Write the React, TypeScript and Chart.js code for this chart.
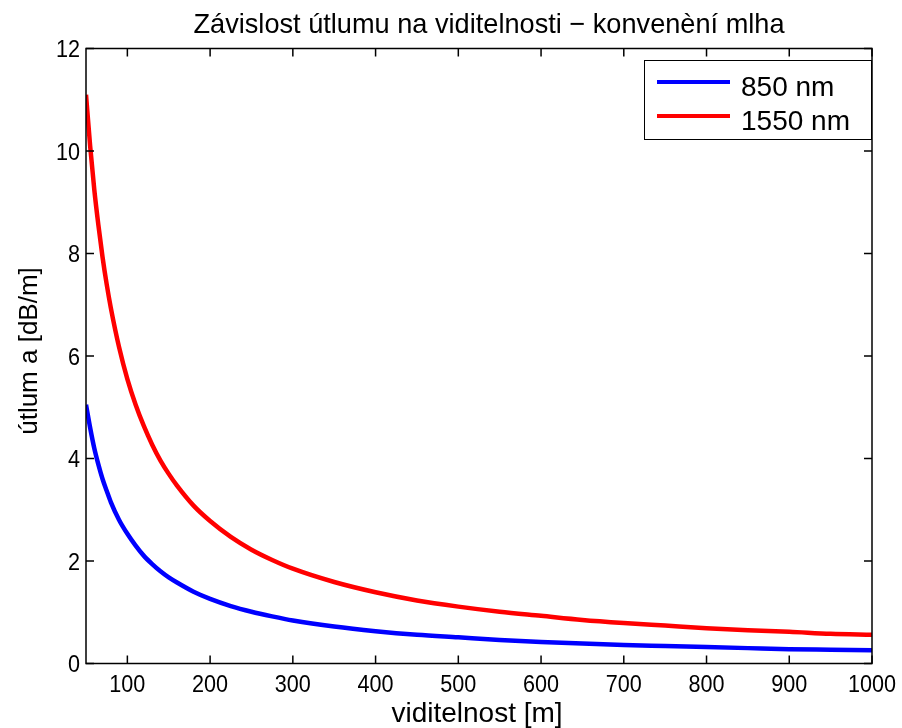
import React, { useEffect, useRef } from "react";
import { Chart, registerables } from "chart.js";

Chart.register(...registerables);

const visibility = [50, 55, 60, 65, 70, 75, 80, 90, 100, 110, 120, 130, 140, 150, 160, 180, 200, 225, 250, 275, 300, 350, 400, 450, 500, 550, 600, 650, 700, 750, 800, 850, 900, 950, 1000];
const att850 = [5.05, 4.6, 4.2, 3.88, 3.6, 3.37, 3.15, 2.8, 2.53, 2.3, 2.1, 1.94, 1.8, 1.68, 1.58, 1.4, 1.26, 1.12, 1.01, 0.92, 0.84, 0.72, 0.63, 0.56, 0.51, 0.46, 0.42, 0.39, 0.36, 0.34, 0.32, 0.3, 0.28, 0.27, 0.26];
const att1550 = [11.1, 10.1, 9.25, 8.55, 7.93, 7.4, 6.94, 6.17, 5.55, 5.05, 4.63, 4.27, 3.96, 3.7, 3.47, 3.08, 2.78, 2.47, 2.22, 2.02, 1.85, 1.59, 1.39, 1.23, 1.11, 1.01, 0.93, 0.85, 0.79, 0.74, 0.69, 0.65, 0.62, 0.58, 0.56];
const xTicks = [100, 200, 300, 400, 500, 600, 700, 800, 900, 1000];
const yTicks = [0, 2, 4, 6, 8, 10, 12];
const seriesLabels = ["850 nm", "1550 nm"];
const titleText = "Závislost útlumu na viditelnosti − konvenèní mlha";
const xTitle = "viditelnost [m]";
const yTitle = "útlum a [dB/m]";

const FONT = "'Liberation Sans', Arial, Helvetica, sans-serif";

function squeezedText(ctx: any, text: string, x: number, y: number, sx: number) {
  ctx.save();
  ctx.translate(x, y);
  ctx.scale(sx, 1);
  ctx.fillText(text, 0, 0);
  ctx.restore();
}

const framePlugin = {
  id: "matlabFrame",
  afterDraw(chart: any) {
    const { ctx, chartArea: a, scales } = chart;
    const xs = scales.x;
    const ys = scales.y;
    ctx.save();
    ctx.strokeStyle = "#000";
    ctx.lineWidth = 1.5;
    ctx.strokeRect(a.left, a.top, a.right - a.left, a.bottom - a.top);
    const tl = 8;
    ctx.beginPath();
    xTicks.forEach((v) => {
      const px = xs.getPixelForValue(v);
      ctx.moveTo(px, a.bottom);
      ctx.lineTo(px, a.bottom - tl);
      ctx.moveTo(px, a.top);
      ctx.lineTo(px, a.top + tl);
    });
    yTicks.forEach((v) => {
      const py = ys.getPixelForValue(v);
      ctx.moveTo(a.left, py);
      ctx.lineTo(a.left + tl, py);
      ctx.moveTo(a.right, py);
      ctx.lineTo(a.right - tl, py);
    });
    ctx.stroke();

    ctx.fillStyle = "#000";
    ctx.textBaseline = "alphabetic";

    // tick labels
    ctx.font = `24px ${FONT}`;
    ctx.textAlign = "center";
    xTicks.forEach((v) => {
      squeezedText(ctx, String(v), xs.getPixelForValue(v), 692, 0.9);
    });
    ctx.textAlign = "right";
    yTicks.forEach((v) => {
      squeezedText(ctx, String(v), a.left - 6, ys.getPixelForValue(v) + 8.6, 0.9);
    });

    // titles
    ctx.textAlign = "center";
    ctx.font = `28px ${FONT}`;
    squeezedText(ctx, titleText, 489, 33, 0.97);
    ctx.fillText(xTitle, 477, 722);
    ctx.save();
    ctx.font = `26px ${FONT}`;
    ctx.translate(37, 351);
    ctx.rotate(-Math.PI / 2);
    ctx.fillText(yTitle, 0, 0);
    ctx.restore();

    // legend
    const lx = 644, ly = 60, lw = 227, lh = 79;
    ctx.fillStyle = "#fff";
    ctx.fillRect(lx, ly, lw, lh);
    ctx.lineWidth = 1;
    ctx.strokeStyle = "#000";
    ctx.strokeRect(lx + 0.5, ly + 0.5, lw, lh);
    chart.data.datasets.forEach((ds: any, i: number) => {
      const yy = ly + 22 + i * 34;
      ctx.strokeStyle = ds.borderColor;
      ctx.lineWidth = 4;
      ctx.beginPath();
      ctx.moveTo(lx + 13, yy);
      ctx.lineTo(lx + 86, yy);
      ctx.stroke();
      ctx.fillStyle = "#000";
      ctx.textAlign = "left";
      ctx.font = `28px ${FONT}`;
      ctx.fillText(ds.label, lx + 97, yy + 13.5);
    });
    ctx.restore();
  },
};

export default function App() {
  const ref = useRef<HTMLCanvasElement>(null);
  useEffect(() => {
    document.body.style.margin = "0";
    const canvas = ref.current!;
    const chart = new Chart(canvas, {
      type: "line",
      data: {
        labels: visibility,
        datasets: [
          {
            label: seriesLabels[0],
            data: visibility.map((v, i) => ({ x: v, y: att850[i] })),
            borderColor: "#0000ff",
            borderWidth: 4.5,
            pointRadius: 0,
            cubicInterpolationMode: "monotone",
            fill: false,
          },
          {
            label: seriesLabels[1],
            data: visibility.map((v, i) => ({ x: v, y: att1550[i] })),
            borderColor: "#ff0000",
            borderWidth: 4.5,
            pointRadius: 0,
            cubicInterpolationMode: "monotone",
            fill: false,
          },
        ],
      },
      options: {
        responsive: false,
        animation: false,
        devicePixelRatio: 1,
        layout: { padding: { top: 48.5, right: 30, left: 0, bottom: 0 } },
        plugins: { legend: { display: false }, title: { display: false }, tooltip: { enabled: false } },
        scales: {
          x: {
            type: "linear",
            min: 50,
            max: 1000,
            afterBuildTicks: (s: any) => {
              s.ticks = xTicks.map((v) => ({ value: v }));
            },
            afterFit: (s: any) => {
              s.height = 64.5;
              s.paddingLeft = 0;
              s.paddingRight = 0;
            },
            grid: { display: false, drawTicks: false },
            border: { display: false },
            ticks: { display: false },
          },
          y: {
            type: "linear",
            min: 0,
            max: 12,
            afterBuildTicks: (s: any) => {
              s.ticks = yTicks.map((v) => ({ value: v }));
            },
            afterFit: (s: any) => {
              s.width = 86;
              s.paddingTop = 0;
              s.paddingBottom = 0;
            },
            grid: { display: false, drawTicks: false },
            border: { display: false },
            ticks: { display: false },
          },
        },
      },
      plugins: [framePlugin],
    } as any);
    return () => chart.destroy();
  }, []);
  return (
    <div style={{ width: 902, height: 728, background: "#fff" }}>
      <canvas ref={ref} width={902} height={728} />
    </div>
  );
}
